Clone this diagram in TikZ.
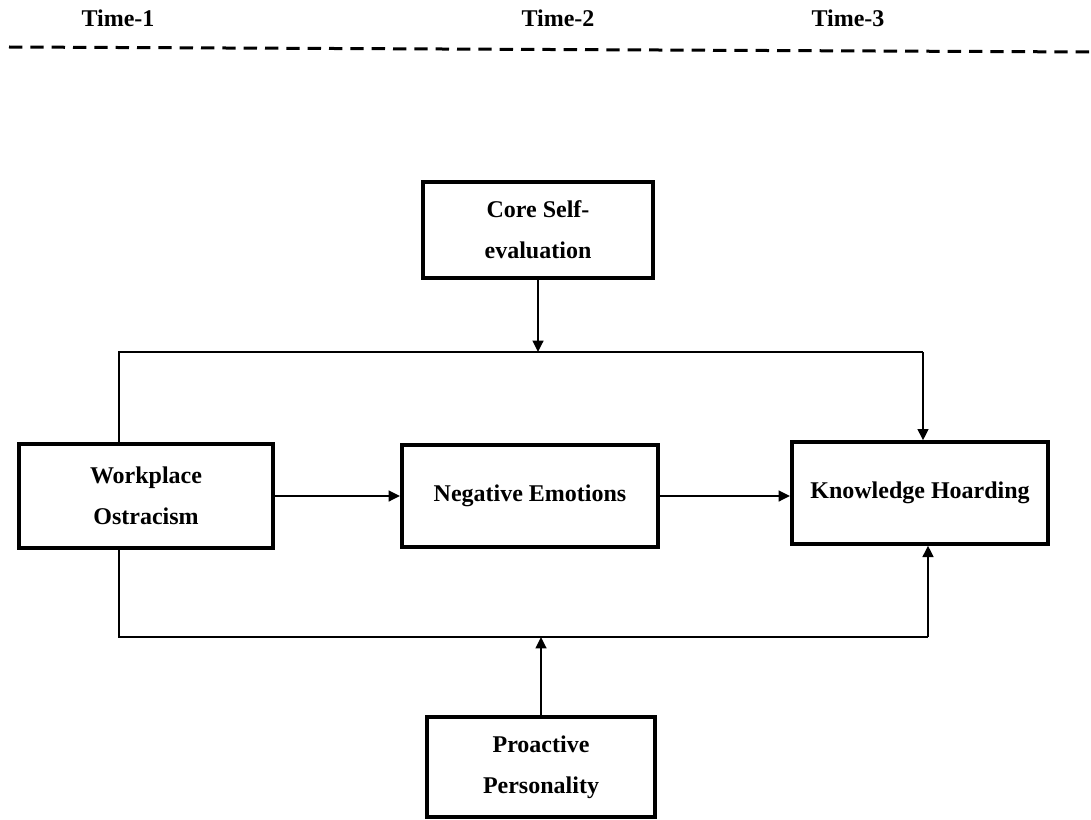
\documentclass[tikz,border=0pt]{standalone}
\usepackage{fontspec}
\setmainfont{Liberation Serif}
\usepackage{tikz}
\usetikzlibrary{arrows.meta, positioning, calc}

\begin{document}
\begin{tikzpicture}[x=0.75pt, y=-0.75pt,
    varbox/.style={draw, line width=3pt, align=center,
        font=\bfseries\fontsize{18}{30.75}\selectfont},
    timelabel/.style={anchor=base, font=\bfseries\fontsize{18}{22}\selectfont},
    link/.style={line width=1.7pt},
    arr/.style={link, -{Triangle[length=8.5pt, width=8pt]}}]
    \useasboundingbox (0,0) rectangle (1091,820);

    % Time waves
    \node[timelabel] (t1) at (118,27) {Time-1};
    \node[timelabel] (t2) at (558,27) {Time-2};
    \node[timelabel] (t3) at (848,27) {Time-3};
    \draw[line width=2.25pt, dash pattern=on 10pt off 6pt] (9,47) -- (1091,52);

    % Variables
    \node[varbox, minimum width=172.5pt, minimum height=72pt] (cse) at (538,230) {Core Self-\\evaluation};
    \node[varbox, minimum width=190.5pt, minimum height=78pt] (wo) at (146,496) {Workplace\\Ostracism};
    \node[varbox, minimum width=192pt, minimum height=76.5pt] (ne) at (530,496) {Negative Emotions};
    \node[varbox, minimum width=192pt, minimum height=76pt] (kh) at (920,493) {Knowledge Hoarding};
    \node[varbox, minimum width=171pt, minimum height=75pt] (pp) at (541,767) {Proactive\\Personality};

    % Rails for the moderated paths
    \coordinate (tl) at (119,352);
    \coordinate (tr) at (923,352);
    \coordinate (bl) at (119,637);
    \coordinate (br) at (928,637);

    % Main path
    \draw[arr] (wo.east) -- (wo.east -| ne.west);
    \draw[arr] (ne.east) -- (ne.east -| kh.west);

    % Upper rail
    \draw[link] (wo.north -| tl) -- (tl) -- (tr);
    \draw[arr] (tr) -- (kh.north -| tr);
    \draw[arr] (cse.south) -- (cse.south |- tl);

    % Lower rail
    \draw[link] (wo.south -| bl) -- (bl) -- (br);
    \draw[arr] (br) -- (kh.south -| br);
    \draw[arr] (pp.north) -- (pp.north |- bl);

\end{tikzpicture}
\end{document}
